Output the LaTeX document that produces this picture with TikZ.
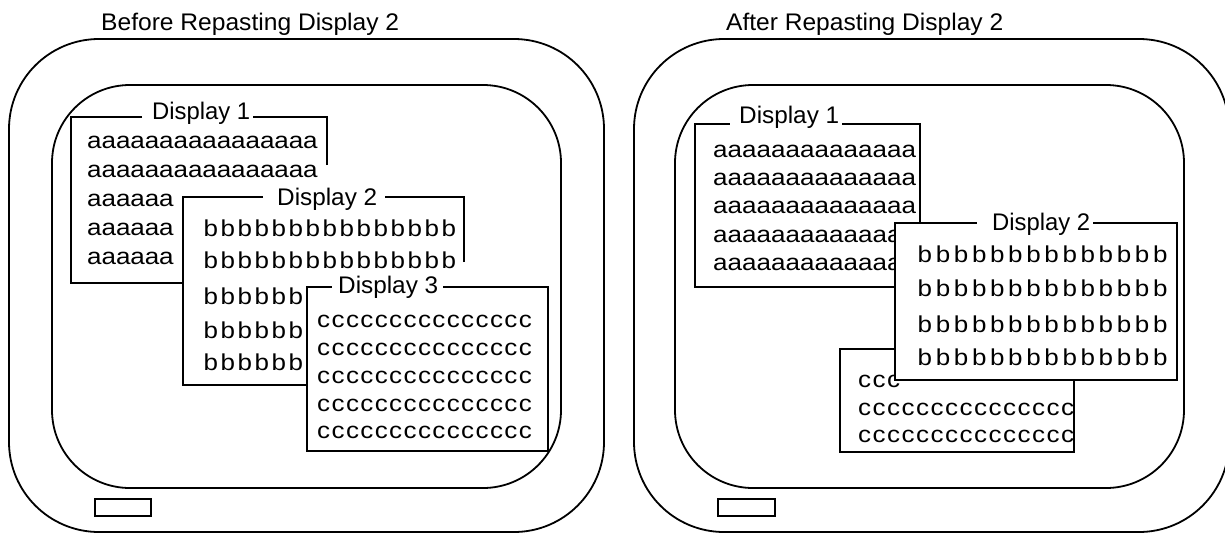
\documentclass[tikz,border=0pt]{standalone}
\usepackage{fontspec}
\setmainfont{Liberation Sans}
\usepackage{graphicx}
% #1 count, #2 advance (pt), #3 character
\newcommand{\rowof}[3]{\foreach \i in {1,...,#1}{\makebox[#2pt][l]{\scalebox{1.13}[1]{#3}}}}
\tikzset{
  frame/.style={line width=1.8pt},
  win/.style={line width=2.3pt},
  body/.style={anchor=base west, inner sep=0pt, font=\fontsize{23}{23}\selectfont},
  lab/.style={anchor=base west, inner sep=0pt, font=\fontsize{24}{24}\selectfont},
}
\begin{document}
\begin{tikzpicture}[x=1pt, y=-1pt]
\useasboundingbox (0,0) rectangle (1225,533);
\clip (0,0) rectangle (1225,533);

% ---------------- Left panel ----------------
\node[lab] (tl) at (101,30) {\resizebox{298pt}{\height}{Before Repasting Display 2}};
\draw[frame, rounded corners=90pt] (9,39) rectangle (604,532);
\draw[frame, rounded corners=78pt] (52,85) rectangle (561,488);
\draw[frame] (95,499) rectangle (151,516);

% Display 1
\draw[win] (327,165) -- (327,117) -- (253,117);
\draw[win] (142,117) -- (71,117) -- (71,283) -- (183,283);
\node[lab] (l1t) at (152,119) {\resizebox{98pt}{\height}{Display 1}};
\node[body] (la1) at (87,148) {\rowof{16}{14.4}{a}};
\node[body] (la2) at (87,177) {\rowof{16}{14.4}{a}};
\node[body] (la3) at (87,206) {\rowof{6}{14.4}{a}};
\node[body] (la4) at (87,235) {\rowof{6}{14.4}{a}};
\node[body] (la5) at (87,264) {\rowof{6}{14.4}{a}};

% Display 2
\draw[win] (464,262) -- (464,197) -- (385,197);
\draw[win] (263,197) -- (183,197) -- (183,385) -- (307,385);
\node[lab] (l2t) at (277,205) {\resizebox{100pt}{\height}{Display 2}};
\node[body] (lb1) at (203.5,236) {\rowof{15}{17}{b}};
\node[body] (lb2) at (203.5,268) {\rowof{15}{17}{b}};
\node[body] (lb3) at (203.5,304) {\rowof{6}{17}{b}};
\node[body] (lb4) at (203.5,338) {\rowof{6}{17}{b}};
\node[body] (lb5) at (203.5,370) {\rowof{6}{17}{b}};

% Display 3
\fill[white] (307,287) rectangle (548,451);
\draw[win] (443,287) -- (548,287) -- (548,451) -- (307,451) -- (307,287) -- (332,287);
\node[lab] (l3t) at (338,293) {\resizebox{100pt}{\height}{Display 3}};
\node[body] (lc1) at (317,327) {\rowof{15}{14.4}{c}};
\node[body] (lc2) at (317,355) {\rowof{15}{14.4}{c}};
\node[body] (lc3) at (317,383) {\rowof{15}{14.4}{c}};
\node[body] (lc4) at (317,411) {\rowof{15}{14.4}{c}};
\node[body] (lc5) at (317,438) {\rowof{15}{14.4}{c}};

% ---------------- Right panel ----------------
\node[lab] (tr) at (726,30) {\resizebox{277pt}{\height}{After Repasting Display 2}};
\draw[frame, rounded corners=90pt] (634,39) rectangle (1229,532);
\draw[frame, rounded corners=78pt] (675,85) rectangle (1184,488);
\draw[frame] (718,499) rectangle (775,516);

% Display 1
\fill[white] (695,124) rectangle (920,287);
\draw[win] (842,124) -- (920,124) -- (920,287) -- (695,287) -- (695,124) -- (730,124);
\node[lab] (r1t) at (739,123) {\resizebox{100pt}{\height}{Display 1}};
\node[body] (ra1) at (713,157) {\rowof{14}{14.5}{a}};
\node[body] (ra2) at (713,185) {\rowof{14}{14.5}{a}};
\node[body] (ra3) at (713,213) {\rowof{14}{14.5}{a}};
\node[body] (ra4) at (713,242) {\rowof{14}{14.5}{a}};
\node[body] (ra5) at (713,270) {\rowof{14}{14.5}{a}};

% Display 3
\fill[white] (840,349) rectangle (1074,452);
\draw[win] (840,349) rectangle (1074,452);
\node[body] (rc1) at (858,387) {\rowof{3}{14.5}{c}};
\node[body] (rc2) at (858,415) {\rowof{15}{14.5}{c}};
\node[body] (rc3) at (858,442) {\rowof{15}{14.5}{c}};

% Display 2
\fill[white] (895,223) rectangle (1177,380);
\draw[win] (1093,223) -- (1177,223) -- (1177,380) -- (895,380) -- (895,223) -- (977,223);
\node[lab] (r2t) at (992,230) {\resizebox{98pt}{\height}{Display 2}};
\node[body] (rb1) at (917.5,262) {\rowof{14}{18.1}{b}};
\node[body] (rb2) at (917.5,296) {\rowof{14}{18.1}{b}};
\node[body] (rb3) at (917.5,332) {\rowof{14}{18.1}{b}};
\node[body] (rb4) at (917.5,365) {\rowof{14}{18.1}{b}};
\end{tikzpicture}
\end{document}
